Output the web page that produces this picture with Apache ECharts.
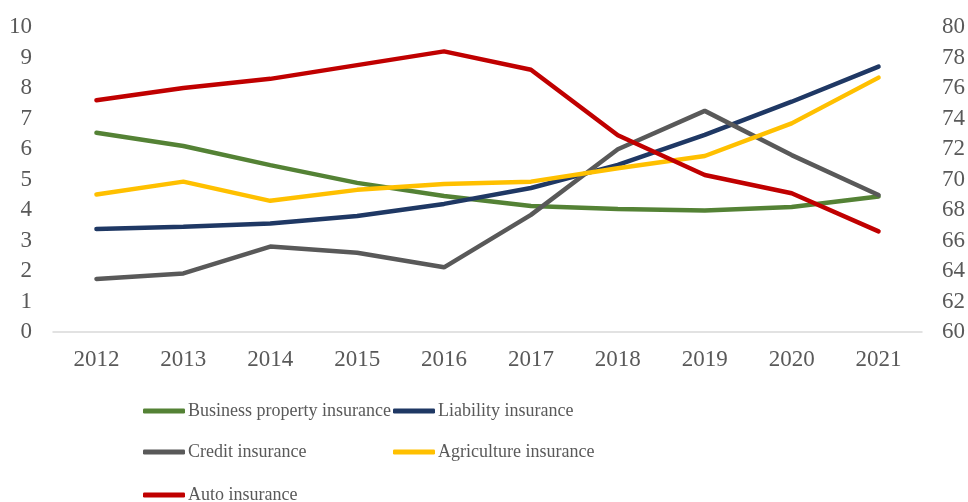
<!DOCTYPE html>
<html>
<head>
<meta charset="utf-8">
<script src="https://cdn.jsdelivr.net/npm/echarts@6/dist/echarts.min.js"></script>
<style>
  html, body { margin: 0; padding: 0; background: #fff; }
  #chart { width: 968px; height: 502px; }
</style>
</head>
<body>
<div id="chart"></div>
<script>
// Insurance lines: share (%) by year; auto insurance uses the right-hand axis
const years = ['2012', '2013', '2014', '2015', '2016', '2017', '2018', '2019', '2020', '2021'];
const businessProperty = [6.53, 6.10, 5.47, 4.89, 4.46, 4.13, 4.03, 3.98, 4.10, 4.44];
const liability        = [3.38, 3.45, 3.56, 3.80, 4.20, 4.72, 5.48, 6.46, 7.55, 8.70];
const credit           = [1.74, 1.92, 2.80, 2.60, 2.12, 3.84, 5.99, 7.25, 5.80, 4.49];
const agriculture      = [4.51, 4.93, 4.30, 4.66, 4.85, 4.93, 5.37, 5.77, 6.84, 8.34];
const auto             = [75.2, 76.0, 76.6, 77.5, 78.4, 77.2, 72.9, 70.3, 69.1, 66.6];

const leftTicks = { min: 0, max: 10, interval: 1 };
const rightTicks = { min: 60, max: 80, interval: 2 };

const font = '"Liberation Serif", "Times New Roman", serif';
const textGray = '#595959';

function lineSeries(name, data, color, axisIndex) {
  return {
    name: name,
    type: 'line',
    data: data,
    yAxisIndex: axisIndex,
    symbol: 'none',
    lineStyle: { width: 4.5, color: color, cap: 'round' },
    itemStyle: { color: color }
  };
}

// one legend entry per component so the entries sit on a fixed two-column grid
function legendItem(name, left, top) {
  return {
    data: [name],
    left: left,
    top: top,
    padding: 0,
    itemWidth: 42,
    itemHeight: 5,
    icon: 'roundRect',
    textStyle: { fontFamily: font, fontSize: 18, color: textGray, padding: [0, 0, 0, -2] }
  };
}

const chart = echarts.init(document.getElementById('chart'));
chart.setOption({
  animation: false,
  backgroundColor: '#fff',
  grid: { left: 53, right: 46, top: 27, bottom: 170 },
  legend: [
    legendItem('Business property insurance', 143, 402),
    legendItem('Liability insurance', 393, 402),
    legendItem('Credit insurance', 143, 443),
    legendItem('Agriculture insurance', 393, 443),
    legendItem('Auto insurance', 143, 486)
  ],
  xAxis: {
    type: 'category',
    data: years,
    boundaryGap: true,
    axisLine: { show: true, lineStyle: { color: '#D9D9D9', width: 1.5 } },
    axisTick: { show: false },
    axisLabel: { fontFamily: font, fontSize: 23, color: textGray, margin: 16 }
  },
  yAxis: [
    {
      type: 'value',
      min: leftTicks.min, max: leftTicks.max, interval: leftTicks.interval,
      axisLine: { show: false },
      axisTick: { show: false },
      splitLine: { show: false },
      axisLabel: { fontFamily: font, fontSize: 23, color: textGray, margin: 21 }
    },
    {
      type: 'value',
      position: 'right',
      min: rightTicks.min, max: rightTicks.max, interval: rightTicks.interval,
      axisLine: { show: false },
      axisTick: { show: false },
      splitLine: { show: false },
      axisLabel: { fontFamily: font, fontSize: 23, color: textGray, margin: 20 }
    }
  ],
  series: [
    lineSeries('Business property insurance', businessProperty, '#548235', 0),
    lineSeries('Liability insurance', liability, '#1F3864', 0),
    lineSeries('Credit insurance', credit, '#595959', 0),
    lineSeries('Agriculture insurance', agriculture, '#FFC000', 0),
    lineSeries('Auto insurance', auto, '#C00000', 1)
  ]
});
</script>
</body>
</html>
